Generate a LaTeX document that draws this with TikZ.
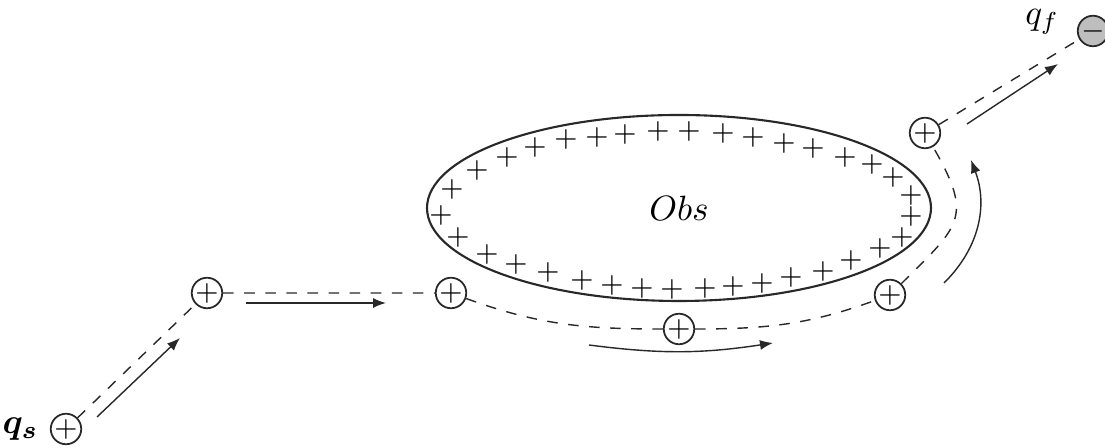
\documentclass[tikz,border=0pt]{standalone}
\usepackage{xcolor}
\usepackage{amsmath}
\usepackage{tikz}
\usetikzlibrary{shapes.geometric, arrows.meta, positioning}
\definecolor{mydark}{RGB}{40,40,40}
\definecolor{mygray}{RGB}{190,190,190}
\tikzset{
  charge/.style={circle, draw=mydark, fill=white, inner sep=0pt,
    minimum size=0.3cm, font=\footnotesize, line width=0.5pt},
  negcharge/.style={charge, fill=mygray},
  obstacle/.style={ellipse, draw=mydark, minimum width=5.04cm,
    minimum height=1.86cm, line width=0.6pt},
  surface/.style={font=\footnotesize, inner sep=0pt},
  chargelabel/.style={inner sep=0pt},
  trail/.style={dashed, thin, color=mydark},
  flowarrow/.style={-{Latex[length=1.3mm, width=1mm]}, thin, color=mydark}
}

\begin{document}
\begin{tikzpicture}
  \useasboundingbox (0,0) rectangle (11.05,4.48);

  % Obstacle
  \node[obstacle] (obs) at (6.79,2.40) {$Obs$};

  % Surface charges
  \foreach \px/\py [count=\i] in {4.41/2.33, 4.52/2.59, 4.77/2.78, 5.07/2.91,
      5.35/3.01, 5.66/3.09, 5.97/3.11, 6.25/3.14, 6.58/3.17, 6.89/3.17,
      7.23/3.15, 7.53/3.11, 7.84/3.05, 8.13/3.00, 8.45/2.91, 8.72/2.84,
      8.93/2.71, 9.11/2.53, 9.11/2.32, 9.02/2.11, 8.80/2.00, 8.51/1.88,
      8.23/1.77, 7.91/1.71, 7.62/1.65, 7.33/1.62, 7.05/1.60, 6.72/1.59,
      6.42/1.60, 6.12/1.63, 5.82/1.68, 5.48/1.76, 5.16/1.84, 4.87/1.94,
      4.58/2.11}
    \node[surface] (s\i) at (\px,\py) {$+$};

  % Moving charge
  \node[charge] (qs) at (0.66,0.19) {$+$};
  \node[charge] (c2) at (2.07,1.55) {$+$};
  \node[charge] (c3) at (4.51,1.55) {$+$};
  \node[charge] (c4) at (6.79,1.19) {$+$};
  \node[charge] (c5) at (8.90,1.53) {$+$};
  \node[charge] (c6) at (9.25,3.15) {$+$};
  \node[negcharge] (qf) at (10.93,4.17) {$-$};
  \node[chargelabel, left=0.11cm of qs] (qslabel) {$\boldsymbol{q_s}$};
  \node[chargelabel, left=0.17cm of qf, yshift=0.09cm] (qflabel) {$q_f$};

  % Path
  \draw[trail] (qs) -- (c2) -- (c3) to[out=-20, in=180] (c4)
    to[out=0, in=200] (c5) to[out=45, in=-60, looseness=1.5] (c6) -- (qf);

  % Direction of motion
  \coordinate (a1s) at (0.97,0.31);
  \coordinate (a1e) at (1.80,1.10);
  \coordinate (a2s) at (2.46,1.45);
  \coordinate (a2e) at (3.86,1.45);
  \coordinate (a3s) at (5.89,1.03);
  \coordinate (a3e) at (7.73,1.05);
  \coordinate (a4s) at (9.44,1.65);
  \coordinate (a4e) at (9.71,2.88);
  \coordinate (a5s) at (9.67,3.24);
  \coordinate (a5e) at (10.58,3.84);
  \draw[flowarrow] (a1s) -- (a1e);
  \draw[flowarrow] (a2s) -- (a2e);
  \draw[flowarrow] (a3s) to[bend right=8] (a3e);
  \draw[flowarrow] (a4s) to[bend right=33] (a4e);
  \draw[flowarrow] (a5s) -- (a5e);
\end{tikzpicture}
\end{document}
